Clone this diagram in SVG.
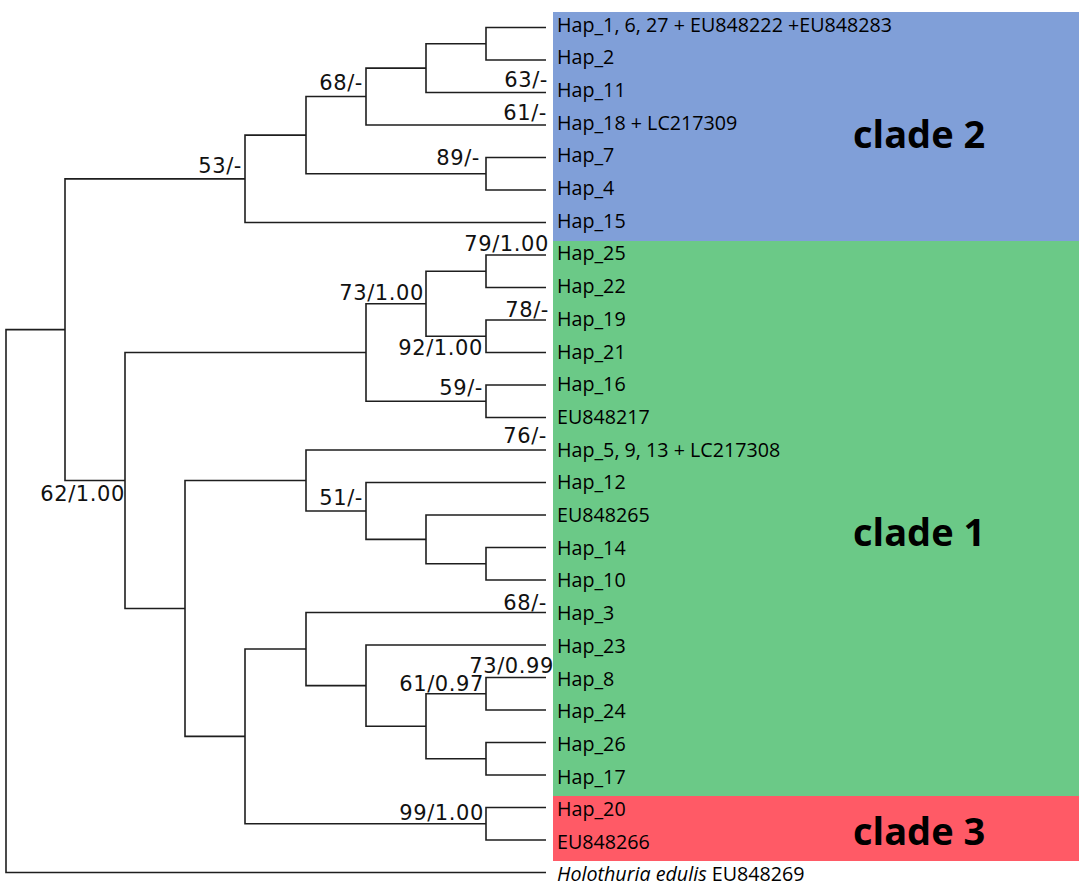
<svg xmlns="http://www.w3.org/2000/svg" width="1084" height="891" viewBox="0 0 1084 891">
<style>
.br{fill:none;stroke:#1e1e1e;stroke-width:1.6;}
.bs{font-family:"DejaVu Sans",Verdana,sans-serif;font-size:21px;letter-spacing:0.6px;fill:#111;text-anchor:end;}
.lf{font-family:"Open Sans","Noto Sans",sans-serif;font-size:19.7px;fill:#000;}
.cl{font-family:"Open Sans","Noto Sans",sans-serif;font-size:38px;font-weight:bold;fill:#000;}
</style>
<rect width="1084" height="891" fill="#fff"/>
<g id="clade2-box"><rect x="553" y="12" width="526" height="229" fill="#809FD8"/><text class="cl" x="853" y="148">clade 2</text></g>
<g id="clade1-box"><rect x="553" y="241" width="526" height="555" fill="#6BC987"/><text class="cl" x="853" y="546">clade 1</text></g>
<g id="clade3-box"><rect x="553" y="796" width="526" height="65" fill="#FF5A66"/><text class="cl" x="853" y="845">clade 3</text></g>
<g id="connectors">
<path class="br" d="M546 27.5H486V60H546"/>
<path class="br" d="M486 43.75H426V92.5H546"/>
<path class="br" d="M426 68.13H366V125H546"/>
<path class="br" d="M546 157.5H486V190H546"/>
<path class="br" d="M366 96.56H306V173.75H486"/>
<path class="br" d="M306 135.16H245V222.5H546"/>
<path class="br" d="M546 255H486V287.5H546"/>
<path class="br" d="M546 320H486V352.5H546"/>
<path class="br" d="M486 271.25H426V336.25H486"/>
<path class="br" d="M546 385H486V417.5H546"/>
<path class="br" d="M426 303.75H366V401.25H486"/>
<path class="br" d="M546 547.5H486V580H546"/>
<path class="br" d="M546 515H426V563.75H486"/>
<path class="br" d="M546 482.5H366V539.38H426"/>
<path class="br" d="M546 450H306V510.94H366"/>
<path class="br" d="M546 677.5H486V710H546"/>
<path class="br" d="M546 742.5H486V775H546"/>
<path class="br" d="M486 693.75H426V758.75H486"/>
<path class="br" d="M546 645H366V726.25H426"/>
<path class="br" d="M546 612.5H306V685.63H366"/>
<path class="br" d="M546 807.5H486V840H546"/>
<path class="br" d="M306 649.06H245V823.75H486"/>
<path class="br" d="M306 480.47H185V736.4H245"/>
<path class="br" d="M366 352.5H125V608.44H185"/>
<path class="br" d="M245 178.83H65V480.47H125"/>
<path class="br" d="M65 329.65H6V872.5H546"/>
</g>
<g id="support">
<text class="bs" x="242" y="173">53/-</text>
<text class="bs" x="363" y="90">68/-</text>
<text class="bs" x="548" y="87">63/-</text>
<text class="bs" x="547" y="120">61/-</text>
<text class="bs" x="480" y="165">89/-</text>
<text class="bs" x="549" y="251">79/1.00</text>
<text class="bs" x="424" y="300">73/1.00</text>
<text class="bs" x="549" y="317">78/-</text>
<text class="bs" x="483" y="355">92/1.00</text>
<text class="bs" x="483" y="395">59/-</text>
<text class="bs" x="547" y="443">76/-</text>
<text class="bs" x="363" y="505">51/-</text>
<text class="bs" x="125" y="501">62/1.00</text>
<text class="bs" x="547" y="610">68/-</text>
<text class="bs" x="554" y="673">73/0.99</text>
<text class="bs" x="484" y="691">61/0.97</text>
<text class="bs" x="484" y="820">99/1.00</text>
</g>
<g id="leaves">
<g id="leaf-hap1"><text class="lf" x="557" y="31.5">Hap_1, 6, 27 + EU848222 +EU848283</text></g>
<g id="leaf-hap2"><text class="lf" x="557" y="64.2">Hap_2</text></g>
<g id="leaf-hap11"><text class="lf" x="557" y="96.9">Hap_11</text></g>
<g id="leaf-hap18"><text class="lf" x="557" y="129.6">Hap_18 + LC217309</text></g>
<g id="leaf-hap7"><text class="lf" x="557" y="162.3">Hap_7</text></g>
<g id="leaf-hap4"><text class="lf" x="557" y="195">Hap_4</text></g>
<g id="leaf-hap15"><text class="lf" x="557" y="227.7">Hap_15</text></g>
<g id="leaf-hap25"><text class="lf" x="557" y="260.4">Hap_25</text></g>
<g id="leaf-hap22"><text class="lf" x="557" y="293.1">Hap_22</text></g>
<g id="leaf-hap19"><text class="lf" x="557" y="325.8">Hap_19</text></g>
<g id="leaf-hap21"><text class="lf" x="557" y="358.5">Hap_21</text></g>
<g id="leaf-hap16"><text class="lf" x="557" y="391.2">Hap_16</text></g>
<g id="leaf-eu848217"><text class="lf" x="557" y="423.9">EU848217</text></g>
<g id="leaf-hap5"><text class="lf" x="557" y="456.6">Hap_5, 9, 13 + LC217308</text></g>
<g id="leaf-hap12"><text class="lf" x="557" y="489.3">Hap_12</text></g>
<g id="leaf-eu848265"><text class="lf" x="557" y="522">EU848265</text></g>
<g id="leaf-hap14"><text class="lf" x="557" y="554.7">Hap_14</text></g>
<g id="leaf-hap10"><text class="lf" x="557" y="587.4">Hap_10</text></g>
<g id="leaf-hap3"><text class="lf" x="557" y="620.1">Hap_3</text></g>
<g id="leaf-hap23"><text class="lf" x="557" y="652.8">Hap_23</text></g>
<g id="leaf-hap8"><text class="lf" x="557" y="685.5">Hap_8</text></g>
<g id="leaf-hap24"><text class="lf" x="557" y="718.2">Hap_24</text></g>
<g id="leaf-hap26"><text class="lf" x="557" y="750.9">Hap_26</text></g>
<g id="leaf-hap17"><text class="lf" x="557" y="783.6">Hap_17</text></g>
<g id="leaf-hap20"><text class="lf" x="557" y="816.3">Hap_20</text></g>
<g id="leaf-eu848266"><text class="lf" x="557" y="849">EU848266</text></g>
<g id="leaf-outgroup"><text class="lf" x="557" y="881"><tspan font-style="italic">Holothuria edulis</tspan> EU848269</text></g>
</g>
</svg>
